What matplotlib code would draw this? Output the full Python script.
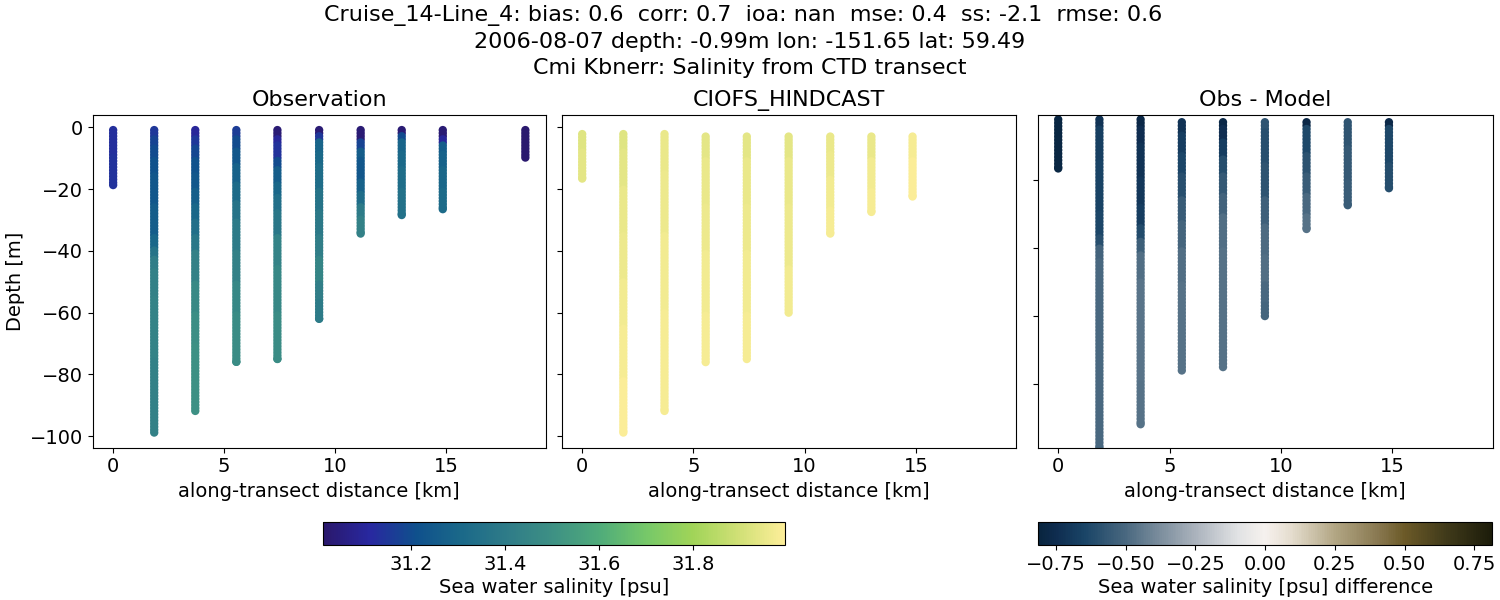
import numpy as np
import matplotlib
matplotlib.use("Agg")
import matplotlib.pyplot as plt
from matplotlib.colors import LinearSegmentedColormap, Normalize
from matplotlib.cm import ScalarMappable

# along-transect distance of each station [km]
distance = [0.0, 1.85, 3.70, 5.55, 7.40, 9.28, 11.15, 13.0, 14.85, 18.57]

# observed casts: top depth, bottom depth [m]
obs_top = [0.9] * 10
obs_bottom = [18.7, 98.8, 91.8, 75.9, 75.0, 62.0, 34.4, 28.4, 26.5, 9.8]
# each cast as value runs: salinity and the depth where the run ends
obs_sal = [
    [31.13, 31.14],
    [31.15, 31.18, 31.20, 31.22, 31.24, 31.26, 31.30, 31.36, 31.41, 31.43, 31.44, 31.43],
    [31.10, 31.15, 31.19, 31.22, 31.24, 31.27, 31.30, 31.34, 31.38, 31.43, 31.47, 31.49, 31.50, 31.50],
    [31.16, 31.20, 31.24, 31.28, 31.32, 31.36, 31.40, 31.43, 31.46, 31.48],
    [31.03, 31.10, 31.14, 31.20, 31.26, 31.30, 31.34, 31.38, 31.44, 31.46, 31.48],
    [31.03, 31.15, 31.29, 31.31, 31.33, 31.36, 31.39, 31.42, 31.45, 31.42, 31.40],
    [31.03, 31.18, 31.26, 31.24, 31.28, 31.33, 31.40, 31.43],
    [31.03, 31.20, 31.29, 31.31, 31.33, 31.35],
    [31.03, 31.10, 31.26, 31.28, 31.30, 31.32],
    [31.02, 31.02],
]
obs_end = [
    [9, 19],
    [3, 6, 10, 15, 25, 35, 39, 42, 46, 55, 75, 99],
    [3, 6, 10, 15, 20, 25, 30, 35, 40, 50, 60, 70, 85, 92],
    [3, 7, 12, 18, 24, 30, 40, 50, 60, 76],
    [3, 5, 10, 13, 18, 22, 27, 35, 45, 60, 75],
    [2.5, 4, 8, 12, 20, 27, 35, 42, 50, 56, 62],
    [4, 7, 10, 17, 21, 25, 29, 35],
    [2.5, 4, 8, 13, 20, 29],
    [3, 5, 8, 13, 20, 27],
    [5, 10],
]

# model casts
model_top = [2.2, 2.2, 2.2, 3.0, 3.0, 3.0, 3.0, 3.0, 3.0]
model_bottom = [16.6, 98.8, 91.8, 76.0, 75.0, 60.0, 34.4, 27.4, 22.4]
model_sal = [
    [31.93, 31.94],
    [31.93, 31.94, 31.95, 31.96, 31.97, 31.98, 31.99],
    [31.95, 31.96, 31.97, 31.98],
    [31.94, 31.95, 31.96, 31.97, 31.98],
    [31.94, 31.95, 31.96, 31.97, 31.98],
    [31.94, 31.95, 31.96, 31.97],
    [31.95, 31.96, 31.97, 31.98],
    [31.95, 31.97, 31.98],
    [31.98, 31.99],
]
model_end = [
    [8, 17],
    [8, 20, 35, 50, 65, 82, 99],
    [15, 35, 60, 92],
    [10, 25, 40, 60, 76],
    [10, 25, 40, 60, 75],
    [10, 25, 45, 60],
    [8, 16, 26, 35],
    [10, 20, 28],
    [10, 23],
]

# obs - model casts (drawn at the model depths)
diff_val = [
    [-0.80, -0.79],
    [-0.72, -0.67, -0.65, -0.64, -0.60, -0.52, -0.50, -0.50],
    [-0.78, -0.75, -0.72, -0.70, -0.68, -0.62, -0.54, -0.48, -0.46, -0.47],
    [-0.72, -0.68, -0.64, -0.60, -0.55, -0.51, -0.48, -0.47, -0.47],
    [-0.78, -0.74, -0.68, -0.61, -0.56, -0.52, -0.48, -0.47, -0.47],
    [-0.58, -0.60, -0.58, -0.53, -0.49, -0.48, -0.50, -0.51],
    [-0.78, -0.63, -0.59, -0.55, -0.50, -0.47],
    [-0.58, -0.56, -0.55],
    [-0.77, -0.63, -0.61],
]
diff_end = [
    [8, 17],
    [5, 15, 30, 37, 40, 44, 70, 99],
    [5, 10, 20, 28, 34, 38, 42, 50, 80, 92],
    [6, 12, 18, 25, 32, 40, 50, 60, 76],
    [4, 8, 13, 18, 24, 30, 40, 55, 75],
    [5, 15, 25, 33, 42, 50, 56, 60],
    [4, 12, 18, 24, 30, 35],
    [10, 20, 28],
    [4, 15, 23],
]

title_lines = [
    "Cruise_14-Line_4: bias: 0.6  corr: 0.7  ioa: nan  mse: 0.4  ss: -2.1  rmse: 0.6  ",
    "2006-08-07 depth: -0.99m lon: -151.65 lat: 59.49",
    "Cmi Kbnerr: Salinity from CTD transect",
]
panel_titles = ["Observation", "CIOFS_HINDCAST", "Obs - Model"]
sal_ticks = [31.2, 31.4, 31.6, 31.8]
diff_ticks = [-0.75, -0.50, -0.25, 0.0, 0.25, 0.50, 0.75]
sal_lim = (31.0136, 31.996)
diff_lim = (-0.814, 0.814)

haline_rgb = [(42, 24, 108), (40, 40, 160), (15, 80, 140), (27, 105, 137), (47, 124, 136),
              (62, 145, 132), (80, 172, 122), (118, 200, 105), (160, 212, 88),
              (208, 224, 118), (253, 238, 153)]
haline = LinearSegmentedColormap.from_list("haline_like", [tuple(c / 255 for c in r) for r in haline_rgb])
diff_pts = [(0.0, (8, 36, 62)), (0.04, (15, 45, 80)), (0.10, (25, 68, 102)), (0.19, (72, 103, 127)),
            (0.27, (125, 143, 158)), (0.345, (170, 178, 188)), (0.44, (225, 226, 228)),
            (0.50, (246, 241, 238)), (0.56, (228, 220, 205)), (0.654, (178, 166, 132)),
            (0.75, (136, 120, 80)), (0.807, (108, 90, 40)), (0.90, (64, 58, 26)), (1.0, (28, 28, 10))]
diff_cmap = LinearSegmentedColormap.from_list(
    "diff_like", [(p, tuple(c / 255 for c in r)) for p, r in diff_pts])

W, H = 1500, 600
def box(x0, y0, x1, y1):
    return [x0 / W, 1 - y1 / H, (x1 - x0) / W, (y1 - y0) / H]

def cast(top, bottom, vals, ends):
    depth = np.arange(top, bottom + 0.01, 1.0)
    if depth[-1] < bottom:
        depth = np.append(depth, bottom)
    idx = np.minimum(np.searchsorted(ends, depth), len(vals) - 1)
    return -depth, np.asarray(vals)[idx]

def draw(ax, tops, bottoms, vals, ends, cmap, lim):
    xs, ys, cs = [], [], []
    for x, t, b, v, e in zip(distance, tops, bottoms, vals, ends):
        d, c = cast(t, b, v, e)
        xs.append(np.full_like(d, x))
        ys.append(d)
        cs.append(c)
    ax.scatter(np.concatenate(xs), np.concatenate(ys), c=np.concatenate(cs), s=36,
               cmap=cmap, vmin=lim[0], vmax=lim[1], linewidths=0)

fs = 14
fig = plt.figure(figsize=(15, 6), dpi=100)
ax1 = fig.add_axes(box(92.5, 115.3, 546, 447.7))
ax2 = fig.add_axes(box(561.5, 115.3, 1016, 447.7))
ax3 = fig.add_axes(box(1037.5, 115.3, 1492.5, 447.7))
draw(ax1, obs_top, obs_bottom, obs_sal, obs_end, haline, sal_lim)
draw(ax2, model_top, model_bottom, model_sal, model_end, haline, sal_lim)
draw(ax3, model_top, model_bottom, diff_val, diff_end, diff_cmap, diff_lim)
for ax, t in zip((ax1, ax2, ax3), panel_titles):
    ax.set_xlim(-0.93, 19.5)
    ax.set_xticks([0, 5, 10, 15])
    ax.set_title(t, fontsize=16, pad=7)
    ax.set_xlabel("along-transect distance [km]", fontsize=fs)
    ax.tick_params(labelsize=fs)
ax1.set_ylim(-103.7, 3.88)
ax2.set_ylim(-103.7, 3.88)
ax3.set_ylim(-98.7, -0.97)
ax1.set_yticks([0, -20, -40, -60, -80, -100])
ax2.set_yticks([0, -20, -40, -60, -80, -100])
ax3.set_yticks([-20, -40, -60, -80])
ax2.set_yticklabels([])
ax3.set_yticklabels([])
ax1.set_ylabel("Depth [m]", fontsize=fs, labelpad=3.5)

fig.suptitle("\n".join(title_lines), fontsize=16, x=0.5, y=0.992, linespacing=1.38)

cax1 = fig.add_axes(box(323.3, 522.3, 785.2, 545.3))
cb1 = fig.colorbar(ScalarMappable(Normalize(*sal_lim), haline), cax=cax1, orientation="horizontal")
cb1.set_ticks(sal_ticks)
cb1.ax.tick_params(labelsize=fs)
cb1.set_label("Sea water salinity [psu]", fontsize=fs, labelpad=3)
cax2 = fig.add_axes(box(1038, 522.3, 1492.2, 544.8))
cb2 = fig.colorbar(ScalarMappable(Normalize(*diff_lim), diff_cmap), cax=cax2, orientation="horizontal")
cb2.set_ticks(diff_ticks)
cb2.ax.tick_params(labelsize=fs)
cb2.set_label("Sea water salinity [psu] difference", fontsize=fs, labelpad=3)

fig.savefig("out.png", dpi=100)
